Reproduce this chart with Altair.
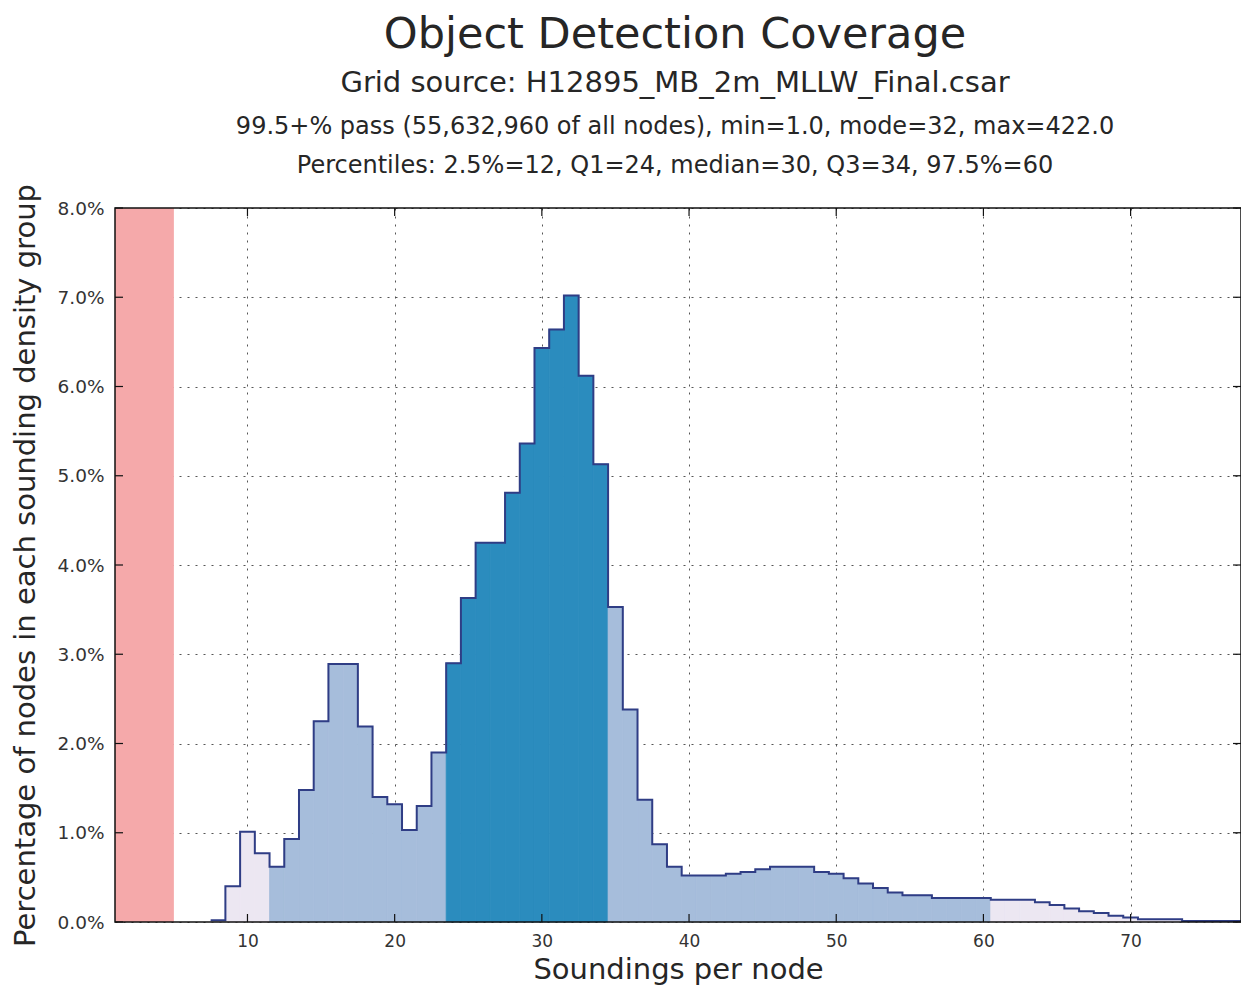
import altair as alt
import pandas as pd

W, H = 1126, 714
FONT = "DejaVu Sans"

# ---------------- text ----------------
title_line = ["Object Detection Coverage"]
source_line = ["Grid source: H12895_MB_2m_MLLW_Final.csar"]
stats_lines = [
    "99.5+% pass (55,632,960 of all nodes), min=1.0, mode=32, max=422.0",
    "Percentiles: 2.5%=12, Q1=24, median=30, Q3=34, 97.5%=60",
]
x_title = "Soundings per node"
y_title = "Percentage of nodes in each sounding density group"

# ---------------- data ----------------
soundings = list(range(8, 78))
percent = [
    0.02, 0.40, 1.01, 0.77, 0.62, 0.93, 1.48, 2.25, 2.89, 2.89, 2.19, 1.40, 1.32, 1.03, 1.30, 1.90,
    2.90, 3.63, 4.25, 4.25, 4.81, 5.36, 6.43, 6.64, 7.02, 6.12, 5.13,
    3.53, 2.38, 1.37, 0.87, 0.62, 0.52, 0.52, 0.52, 0.54, 0.56, 0.59, 0.62, 0.62, 0.62,
    0.56, 0.54, 0.49, 0.43, 0.38, 0.33, 0.30, 0.30, 0.27, 0.27, 0.27, 0.27,
    0.25, 0.25, 0.25, 0.22, 0.19, 0.15, 0.12, 0.10, 0.07, 0.05, 0.03, 0.03, 0.03,
    0.01, 0.01, 0.01, 0.01,
]
fail_range = [1.0, 5.0]
p025, q1, q3, p975 = 12, 24, 34, 60
x_ticks = [10, 20, 30, 40, 50, 60, 70]
y_ticks = [0, 1, 2, 3, 4, 5, 6, 7, 8]
x_domain = [1.0, 77.5]
y_domain = [0, 8]


def band(c):
    if c < p025 or c > p975:
        return "tail"
    if q1 <= c <= q3:
        return "iqr"
    return "mid"


bars = pd.DataFrame({
    "lo": [c - 0.5 for c in soundings],
    "hi": [c + 0.5 for c in soundings],
    "pct": percent,
    "band": [band(c) for c in soundings],
})
step = pd.DataFrame({
    "edge": [c - 0.5 for c in soundings] + [soundings[-1] + 0.5],
    "pct": percent + [percent[-1]],
})
fail = pd.DataFrame({"lo": [fail_range[0]], "hi": [fail_range[1]]})
xt = pd.DataFrame({"t": x_ticks})
yt = pd.DataFrame({"t": y_ticks})
one = pd.DataFrame({"k": [0]})

xs = alt.Scale(domain=x_domain, nice=False, zero=False)
ys = alt.Scale(domain=y_domain, nice=False, zero=False)

x_axis = alt.Axis(values=x_ticks, title=x_title, grid=True, ticks=False, tickSize=0,
                  domain=False, labelPadding=11, titlePadding=6, labelFontSize=17)
y_axis = alt.Axis(values=y_ticks, title=y_title, grid=True, ticks=False, tickSize=0,
                  domain=False, labelPadding=11, titlePadding=17, labelFontSize=18.5,
                  labelExpr="format(datum.value, '.1f') + '%'")

band_scale = alt.Scale(domain=["tail", "mid", "iqr"], range=["#ece7f2", "#a6bddb", "#2b8cbe"])

red_band = alt.Chart(fail).mark_rect(color="#f5a9aa").encode(
    x=alt.X("lo:Q", scale=xs, axis=x_axis),
    x2="hi:Q",
    y=alt.value(0),
    y2=alt.value(H),
)

hist = alt.Chart(bars).mark_rect(strokeWidth=0.8).encode(
    x=alt.X("lo:Q", scale=xs, axis=x_axis),
    x2="hi:Q",
    y=alt.Y("pct:Q", scale=ys, axis=y_axis),
    y2=alt.datum(0),
    color=alt.Color("band:N", legend=None, scale=band_scale),
    stroke=alt.Stroke("band:N", legend=None, scale=band_scale),
)

outline = alt.Chart(step).mark_line(interpolate="step-after", color="#2f3d85", strokeWidth=2).encode(
    x=alt.X("edge:Q", scale=xs, axis=x_axis),
    y=alt.Y("pct:Q", scale=ys, axis=y_axis),
)

tick_color = "#111"
xtick_bot = alt.Chart(xt).mark_rule(color=tick_color, strokeWidth=1.2).encode(
    x=alt.X("t:Q", scale=xs, axis=x_axis), y=alt.value(H), y2=alt.value(H - 8))
xtick_top = alt.Chart(xt).mark_rule(color=tick_color, strokeWidth=1.2).encode(
    x=alt.X("t:Q", scale=xs, axis=x_axis), y=alt.value(0), y2=alt.value(8))
ytick_left = alt.Chart(yt).mark_rule(color=tick_color, strokeWidth=1.2).encode(
    y=alt.Y("t:Q", scale=ys, axis=y_axis), x=alt.value(0), x2=alt.value(8))
ytick_right = alt.Chart(yt).mark_rule(color=tick_color, strokeWidth=1.2).encode(
    y=alt.Y("t:Q", scale=ys, axis=y_axis), x=alt.value(W - 8), x2=alt.value(W))

frame = alt.Chart(one).mark_rect(fillOpacity=0, stroke="#111", strokeWidth=1.5).encode(
    x=alt.value(0), x2=alt.value(W), y=alt.value(0), y2=alt.value(H))

cx = 560
t1 = alt.Chart(pd.DataFrame({"s": title_line})).mark_text(
    font=FONT, fontSize=43, color="#262626", align="center", baseline="alphabetic").encode(
    text="s:N", x=alt.value(cx), y=alt.value(-160))
t2 = alt.Chart(pd.DataFrame({"s": source_line})).mark_text(
    font=FONT, fontSize=29, color="#262626", align="center", baseline="alphabetic").encode(
    text="s:N", x=alt.value(cx), y=alt.value(-116))
t3 = alt.Chart(pd.DataFrame({"s": stats_lines[:1]})).mark_text(
    font=FONT, fontSize=24, color="#262626", align="center", baseline="alphabetic").encode(
    text="s:N", x=alt.value(cx), y=alt.value(-74))
t4 = alt.Chart(pd.DataFrame({"s": stats_lines[1:]})).mark_text(
    font=FONT, fontSize=24, color="#262626", align="center", baseline="alphabetic").encode(
    text="s:N", x=alt.value(cx), y=alt.value(-35))

chart = alt.layer(
    red_band, hist, outline, xtick_bot, xtick_top, ytick_left, ytick_right, frame,
    t1, t2, t3, t4,
).properties(
    width=W, height=H,
    padding={"left": 107, "top": 200, "right": 0, "bottom": 66},
    autosize=alt.AutoSizeParams(type="none"),
).configure_view(
    stroke=None
).configure_axis(
    zindex=1,
    gridColor="#444",
    gridDash=[2, 6],
    gridWidth=1,
    gridOpacity=0.9,
    labelFont=FONT,
    labelColor="#333",
    titleFont=FONT,
    titleFontSize=29,
    titleFontWeight="normal",
    titleColor="#262626",
)

chart.save("out.html", embed_options={"renderer": "svg", "actions": False})
